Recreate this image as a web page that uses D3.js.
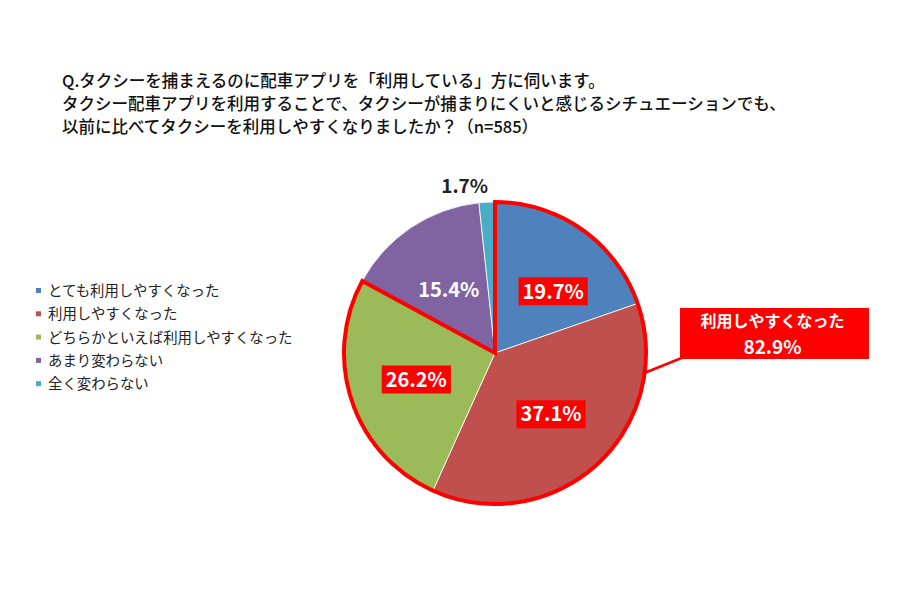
<!DOCTYPE html>
<html><head><meta charset="utf-8">
<script src="https://cdn.jsdelivr.net/npm/d3@7"></script>
<style>
html,body{margin:0;padding:0;background:#fff;}
svg{display:block;}
text{font-family:"Noto Sans CJK JP","Noto Sans",sans-serif;}
</style></head>
<body>
<svg id="chart" width="900" height="600"></svg>
<script>
const titleLines = [
  "Q.タクシーを捕まえるのに配車アプリを「利用している」方に伺います。",
  "タクシー配車アプリを利用することで、タクシーが捕まりにくいと感じるシチュエーションでも、",
  "以前に比べてタクシーを利用しやすくなりましたか？（n=585）"
];
const categories = ["とても利用しやすくなった","利用しやすくなった","どちらかといえば利用しやすくなった","あまり変わらない","全く変わらない"];
const values = [19.7, 37.1, 26.2, 15.4, 1.7];
const colors = ["#4f81bd","#c0504d","#9bbb59","#8064a2","#4bacc6"];
const labelBoxed = [true, true, true, false, false];
const calloutLines = ["利用しやすくなった","82.9%"];
const highlightCount = 3;

const svg = d3.select("#chart");
const W = 900, H = 600;
svg.append("rect").attr("width",W).attr("height",H).attr("fill","#fff");

// Title
const title = svg.append("g");
titleLines.forEach((t,i)=>{
  title.append("text").attr("x",62).attr("y",87 + i*23)
    .attr("font-size",16.5).attr("font-weight",500).attr("fill","#111").text(t);
});

// Legend
const legend = svg.append("g");
categories.forEach((c,i)=>{
  const y = 291 + i*23.3;
  legend.append("rect").attr("x",36).attr("y",y-3).attr("width",5).attr("height",5).attr("fill",colors[i]);
  legend.append("text").attr("x",48).attr("y",y).attr("dy","0.35em")
    .attr("font-size",14.4).attr("fill","#222").text(c);
});

// Pie
const cx = 495, cy = 353, R = 151;
const pie = d3.pie().sort(null).value(d=>d);
const arcs = pie(values);
const arc = d3.arc().innerRadius(0).outerRadius(R);
const g = svg.append("g").attr("transform",`translate(${cx},${cy})`);
g.selectAll("path.slice").data(arcs).join("path").attr("class","slice")
  .attr("d",arc).attr("fill",(d,i)=>colors[i]).attr("stroke","#fff").attr("stroke-width",0.8);

// Highlight outline
const hlEnd = arcs[highlightCount-1].endAngle;
g.append("path").attr("d", arc({startAngle:0,endAngle:hlEnd}))
  .attr("fill","none").attr("stroke","#ff0000").attr("stroke-width",4).attr("stroke-linejoin","miter");

// Labels
const labelArc = d3.arc().innerRadius(R*0.55).outerRadius(R*0.55);
arcs.forEach((d,i)=>{
  const txt = values[i].toFixed(1)+"%";
  if (i === arcs.length-1) {
    const a = (d.startAngle+d.endAngle)/2;
    const rr = R + 16;
    g.append("text").attr("x", rr*Math.sin(a)+2).attr("y", -rr*Math.cos(a)).attr("dy","0.35em")
      .attr("text-anchor","end").attr("font-size",19).attr("font-weight",700).attr("fill","#222").text(txt);
    return;
  }
  let [x,y] = labelArc.centroid(d);
  if (i === 0) { x += 10; y += 6; }
  if (i === 3) { y += 6; }
  const t = g.append("text").attr("x",x).attr("y",y).attr("dy","0.36em")
    .attr("text-anchor","middle").attr("font-size",20).attr("font-weight",700).attr("fill","#fff").text(txt);
  if (labelBoxed[i]) {
    const bb = t.node().getBBox();
    g.insert("rect", () => t.node()).attr("x",bb.x-4).attr("y",y-14).attr("width",bb.width+8).attr("height",28).attr("fill","#ff0000");
  }
});

// Callout
const bx = 680, by = 308, bw = 189, bh = 51;
const pa = 98*Math.PI/180;
svg.append("line").attr("x1",bx+4).attr("y1",by+bh-2)
  .attr("x2",cx+(R-2)*Math.sin(pa)).attr("y2",cy-(R-2)*Math.cos(pa))
  .attr("stroke","#ff0000").attr("stroke-width",2.5);
svg.append("rect").attr("x",bx).attr("y",by).attr("width",bw).attr("height",bh).attr("fill","#ff0000");
const calloutSizes = [16, 19];
const calloutY = [19, 46];
calloutLines.forEach((l,i)=>{
  svg.append("text").attr("x",bx+bw/2-2).attr("y",by+calloutY[i]).attr("text-anchor","middle")
    .attr("font-size",calloutSizes[i]).attr("font-weight",700).attr("fill","#fff").text(l);
});
</script>
</body></html>
